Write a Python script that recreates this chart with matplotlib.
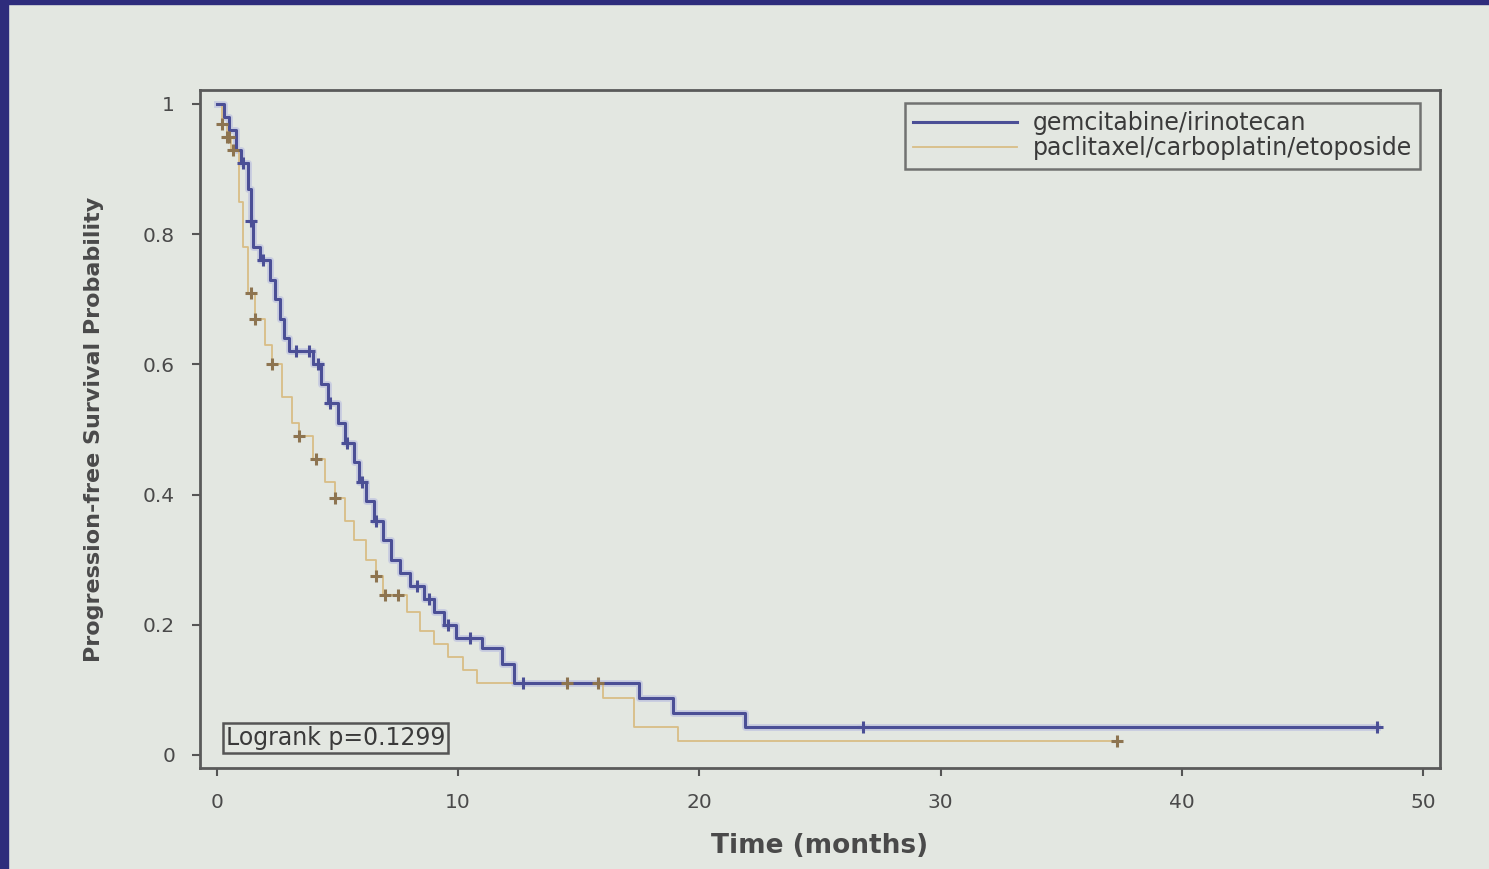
import numpy as np
import matplotlib
matplotlib.use("Agg")
import matplotlib.pyplot as plt
import matplotlib.patches as mpatches

# Kaplan-Meier step data (time in months, survival prob)
gem_t = [0, 0.3, 0.5, 0.8, 1.0, 1.3, 1.4, 1.5, 1.8, 2.2, 2.4, 2.6, 2.8, 3.0, 4.0, 4.3, 4.6, 5.0,
         5.3, 5.7, 5.9, 6.2, 6.5, 6.9, 7.2, 7.6, 8.0, 8.6, 9.0, 9.4, 9.9, 11.0, 11.8, 12.3, 17.5,
         18.9, 21.9, 48.1]
gem_s = [1.0, 0.98, 0.96, 0.93, 0.91, 0.87, 0.82, 0.78, 0.76, 0.73, 0.70, 0.67, 0.64, 0.62, 0.60,
         0.57, 0.54, 0.51, 0.48, 0.45, 0.42, 0.39, 0.36, 0.33, 0.30, 0.28, 0.26, 0.24, 0.22, 0.20,
         0.18, 0.165, 0.14, 0.11, 0.087, 0.065, 0.043, 0.043]
gem_cens = [1.1, 1.4, 1.9, 3.3, 3.8, 4.2, 4.7, 5.4, 6.0, 6.6, 8.3, 8.8, 9.6, 10.5, 12.7, 26.8, 48.1]

pce_t = [0, 0.2, 0.4, 0.6, 0.9, 1.1, 1.3, 1.6, 2.0, 2.3, 2.7, 3.1, 3.4, 4.0, 4.5, 4.9, 5.3, 5.7,
         6.2, 6.6, 6.9, 7.9, 8.4, 9.0, 9.6, 10.2, 10.8, 16.0, 17.3, 19.1, 37.3]
pce_s = [1.0, 0.97, 0.95, 0.93, 0.85, 0.78, 0.71, 0.67, 0.63, 0.60, 0.55, 0.51, 0.49, 0.455, 0.42,
         0.395, 0.36, 0.33, 0.30, 0.275, 0.245, 0.22, 0.19, 0.17, 0.15, 0.13, 0.11, 0.087, 0.043,
         0.022, 0.022]
pce_cens = [0.2, 0.4, 0.5, 0.65, 1.4, 1.6, 2.3, 3.4, 4.1, 4.9, 6.6, 6.95, 7.5, 14.5, 15.8, 37.3]

labels = ["gemcitabine/irinotecan", "paclitaxel/carboplatin/etoposide"]
logrank_txt = "Logrank p=0.1299"

BG = "#e3e7e1"
GEM_C = "#4b4f96"
PCE_C = "#d9bd86"
PCE_M = "#8d7450"
TXT = "#4a4a4a"

def surv_at(t, s, x):
    i = np.searchsorted(t, x, side="right") - 1
    return np.asarray(s)[i]

plt.rcParams["font.family"] = ["DejaVu Sans"]

fig = plt.figure(figsize=(14.89, 8.69), dpi=100, facecolor=BG)
# slide border (dark blue left/top edge)
fig.patches.append(mpatches.Rectangle((0, 0), 8 / 1489, 1, transform=fig.transFigure,
                                      color="#2e2c7c", zorder=10))
fig.patches.append(mpatches.Rectangle((0, 1 - 4 / 869), 1, 4 / 869, transform=fig.transFigure,
                                      color="#2e2c7c", zorder=10))

ax = fig.add_axes([200 / 1489, 1 - 768 / 869, 1240 / 1489, 678 / 869])
ax.set_facecolor(BG)

# light halo under the blue line to mimic the blurry photo
ax.step(gem_t, gem_s, where="post", color="#b9bde0", lw=5, alpha=0.6, zorder=2)
g_line, = ax.step(gem_t, gem_s, where="post", color=GEM_C, lw=2.2, zorder=3)
p_line, = ax.step(pce_t, pce_s, where="post", color=PCE_C, lw=1.3, zorder=2)

ax.plot(gem_cens, surv_at(gem_t, gem_s, gem_cens), "+", color=GEM_C, ms=9, mew=2.2, zorder=4)
ax.plot(pce_cens, surv_at(pce_t, pce_s, pce_cens), "+", color=PCE_M, ms=9, mew=2.2, zorder=4)

ax.set_xlim(-0.7, 50.7)
ax.set_ylim(-0.02, 1.0215)
ax.set_xticks([0, 10, 20, 30, 40, 50])
ax.set_yticks([0, 0.2, 0.4, 0.6, 0.8, 1])
ax.set_yticklabels(["0", "0.2", "0.4", "0.6", "0.8", "1"])
ax.tick_params(direction="out", length=6, width=1.5, color="#555555", labelcolor=TXT,
               labelsize=14.5, pad=12)
for sp in ax.spines.values():
    sp.set_color("#5a5a5a")
    sp.set_linewidth(2)

ax.set_xlabel("Time (months)", fontsize=19, fontweight="bold", color=TXT, labelpad=15)
ax.set_ylabel("Progression-free Survival Probability", fontsize=16, fontweight="bold",
              color=TXT, labelpad=28)

leg = ax.legend([g_line, p_line], labels, loc="upper right", bbox_to_anchor=(0.984, 0.981),
                borderaxespad=0, fontsize=17, frameon=True, fancybox=False,
                edgecolor="#555555", facecolor=BG, handlelength=4.4, borderpad=0.35,
                labelspacing=0.05, handletextpad=0.65)
leg.get_frame().set_linewidth(1.8)
for t in leg.get_texts():
    t.set_color("#3a3a3a")

ax.text(0.38, 0.008, logrank_txt, fontsize=17, color="#3a3a3a",
        transform=ax.transData, va="bottom", ha="left",
        bbox=dict(boxstyle="square,pad=0.12", facecolor=BG, edgecolor="#555555", lw=1.8))

fig.savefig("out.png", dpi=100, facecolor=BG)
